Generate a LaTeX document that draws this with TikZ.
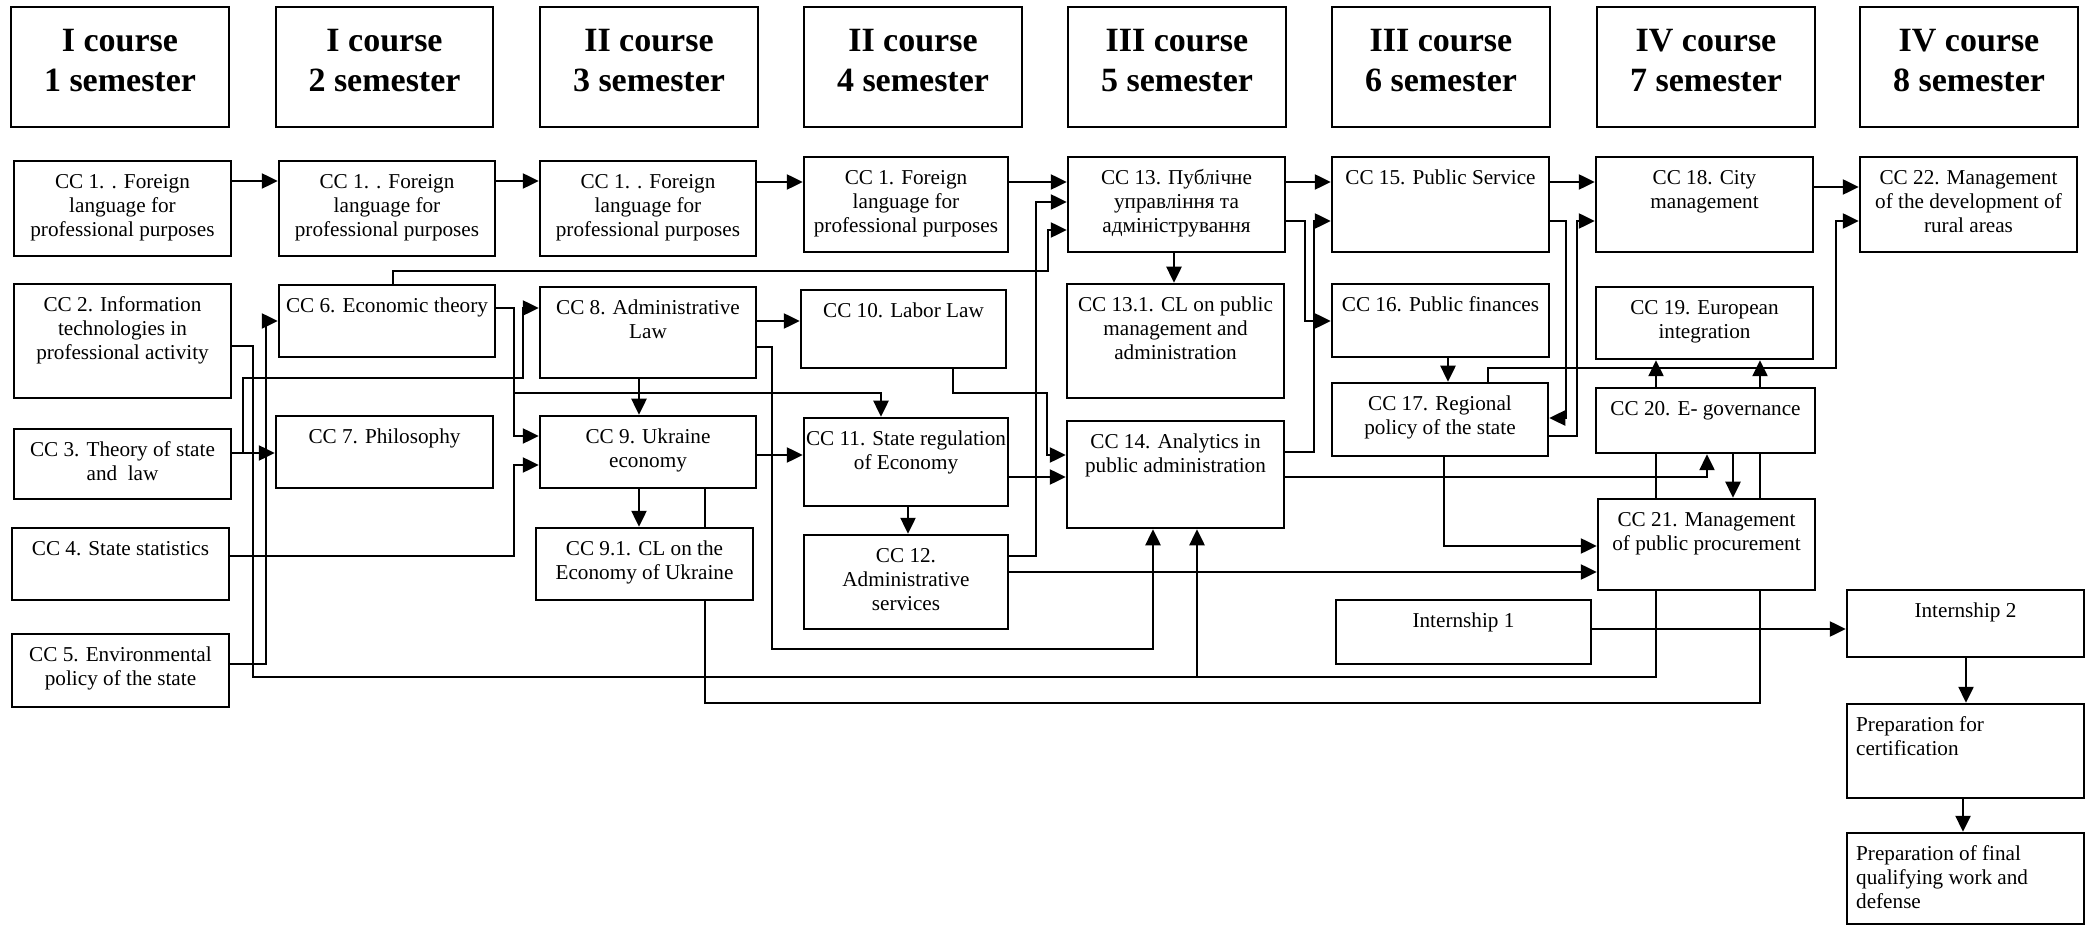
\documentclass[tikz,border=0pt]{standalone}
\usepackage{fontspec}
\setmainfont{Liberation Serif}
\usetikzlibrary{arrows.meta,fit,backgrounds}
\newcommand\cbox[6]{\node[box, fit={(#2,#3) (#4,#5)}] (#1) {};\node[txt] at (#1.north) {\strut #6};}
\newcommand\lbox[6]{\node[box, fit={(#2,#3) (#4,#5)}] (#1) {};\node[ltxt] at (#1.north west) {\strut #6};}
\newcommand\hdrbox[6]{\node[box, fit={(#2,#3) (#4,#5)}] (#1) {};\node[htxt] at (#1.north) {\strut #6};}
\begin{document}
\begin{tikzpicture}[x=0.5pt,y=-0.5pt,
  box/.style={draw, line width=1.25pt, fill=white, inner sep=0pt},
  txt/.style={font=\fontsize{10.6}{12}\selectfont, align=center, inner sep=0pt, anchor=north, yshift=-6pt},
  ltxt/.style={font=\fontsize{10.6}{12}\selectfont, align=left, inner sep=0pt, anchor=north west, yshift=-6pt, xshift=5pt},
  htxt/.style={font=\fontsize{17}{20}\selectfont\bfseries, align=center, inner sep=0pt, anchor=north, yshift=-8.5pt},
  conn/.style={line width=1.25pt},
  arr/.style={conn, -{Triangle[length=8pt,width=7.5pt]}}]
\useasboundingbox (0,0) rectangle (2085,925);
% headers
\hdrbox{h1}{11}{7}{229}{127}{I course\\1 semester}
\hdrbox{h2}{276}{7}{493}{127}{I course\\2 semester}
\hdrbox{h3}{540}{7}{758}{127}{II course\\3 semester}
\hdrbox{h4}{804}{7}{1022}{127}{II course\\4 semester}
\hdrbox{h5}{1068}{7}{1286}{127}{III course\\5 semester}
\hdrbox{h6}{1332}{7}{1550}{127}{III course\\6 semester}
\hdrbox{h7}{1597}{7}{1815}{127}{IV course\\7 semester}
\hdrbox{h8}{1860}{7}{2078}{127}{IV course\\8 semester}
% boxes
\cbox{c1a}{14}{161}{231}{256}{CC 1. . Foreign\\language for\\professional purposes}
\cbox{c1b}{279}{161}{495}{256}{CC 1. . Foreign\\language for\\professional purposes}
\cbox{c1c}{540}{161}{756}{256}{CC 1. . Foreign\\language for\\professional purposes}
\cbox{c1d}{804}{157}{1008}{252}{CC 1. Foreign\\language for\\professional purposes}
\cbox{c2}{14}{284}{231}{398}{CC 2. Information\\technologies in\\professional activity}
\cbox{c3}{14}{429}{231}{499}{CC 3. Theory of state\\and~~law}
\cbox{c4}{12}{528}{229}{600}{CC 4. State statistics}
\cbox{c5}{12}{634}{229}{707}{CC 5. Environmental\\policy of the state}
\cbox{c6}{279}{285}{495}{357}{CC 6. Economic theory}
\cbox{c7}{276}{416}{493}{488}{CC 7. Philosophy}
\cbox{c8}{540}{287}{756}{378}{CC 8. Administrative\\Law}
\cbox{c9}{540}{416}{756}{488}{CC 9. Ukraine\\economy}
\cbox{c91}{536}{528}{753}{600}{CC 9.1. CL on the\\Economy of Ukraine}
\cbox{c10}{801}{290}{1006}{368}{CC 10. Labor Law}
\cbox{c11}{804}{418}{1008}{506}{CC 11. State regulation\\of Economy}
\cbox{c12}{804}{535}{1008}{629}{CC 12.\\Administrative\\services}
\cbox{c13}{1068}{157}{1285}{252}{CC 13. Публічне\\управління та\\адміністрування}
\cbox{c131}{1067}{284}{1284}{398}{CC 13.1. CL on public\\management and\\administration}
\cbox{c14}{1067}{421}{1284}{528}{CC 14. Analytics in\\public administration}
\cbox{c15}{1332}{157}{1549}{252}{CC 15. Public Service}
\cbox{c16}{1332}{284}{1549}{357}{CC 16. Public finances}
\cbox{c17}{1332}{383}{1548}{456}{CC 17. Regional\\policy of the state}
\cbox{in1}{1336}{600}{1591}{664}{Internship 1}
\cbox{c18}{1596}{157}{1813}{252}{CC 18. City\\management}
\cbox{c19}{1596}{287}{1813}{359}{CC 19. European\\integration}
\cbox{c20}{1596}{388}{1815}{453}{CC 20. E- governance}
\cbox{c21}{1598}{499}{1815}{590}{CC 21. Management\\of public procurement}
\cbox{c22}{1860}{157}{2077}{252}{CC 22. Management\\of the development of\\rural areas}
\cbox{in2}{1847}{590}{2084}{657}{Internship 2}
\lbox{pc}{1847}{704}{2084}{798}{Preparation for\\certification}
\lbox{pf}{1847}{833}{2084}{924}{Preparation of final\\qualifying work and\\defense}
% connectors
\begin{pgfonlayer}{background}
\draw[arr] (c1a.east |- 0,181) -- (c1b.west |- 0,181);
\draw[arr] (c1b.east |- 0,181) -- (c1c.west |- 0,181);
\draw[arr] (c1c.east |- 0,182) -- (c1d.west |- 0,182);
\draw[arr] (c1d.east |- 0,182) -- (c13.west |- 0,182);
\draw[arr] (c12.east |- 0,556) -| (1036,202) -- (c13.west |- 0,202);
\draw[arr] (c6.north -| 393,0) |- (1048,271) |- (c13.west |- 0,230);
\draw[arr] (c6.east |- 0,308) -| (514,436) -- (c9.west |- 0,436);
\draw[arr] (514,393) -| (c11.north -| 881,0);
\draw[arr] (c8.south -| 639,0) -- (c9.north -| 639,0);
\draw[arr] (c9.south -| 639,0) -- (c91.north -| 639,0);
\draw[arr] (c2.east |- 0,346) -| (253,677) -| (c19.south -| 1656,0);
\draw[arr] (1197,677) -- (c14.south -| 1197,0);
\draw[arr] (c3.east |- 0,453) -- (c7.west |- 0,453);
\draw[arr] (243,453) |- (523,378) |- (c8.west |- 0,308);
\draw[arr] (c5.east |- 0,664) -| (266,321) -- (c6.west |- 0,321);
\draw[arr] (c4.east |- 0,556) -| (514,465) -- (c9.west |- 0,465);
\draw[arr] (c8.east |- 0,321) -- (c10.west |- 0,321);
\draw[arr] (c8.east |- 0,347) -| (772,649) -| (c14.south -| 1153,0);
\draw[arr] (c9.south -| 705,0) |- (1760,703) -- (c19.south -| 1760,0);
\draw[arr] (c9.east |- 0,455) -- (c11.west |- 0,455);
\draw[arr] (c10.south -| 953,0) |- (1047,393) |- (c14.west |- 0,455);
\draw[arr] (c11.east |- 0,477) -- (c14.west |- 0,477);
\draw[arr] (c11.south -| 908,0) -- (c12.north -| 908,0);
\draw[arr] (c12.east |- 0,572) -- (c21.west |- 0,572);
\draw[arr] (c13.east |- 0,182) -- (c15.west |- 0,182);
\draw[arr] (c13.east |- 0,221) -| (1305,321) -- (c16.west |- 0,321);
\draw[arr] (c14.east |- 0,452) -| (1314,221) -- (c15.west |- 0,221);
\draw[arr] (c13.south -| 1174,0) -- (c131.north -| 1174,0);
\draw[arr] (c15.east |- 0,182) -- (c18.west |- 0,182);
\draw[arr] (c15.east |- 0,221) -| (1566,418) -- (c17.east |- 0,418);
\draw[arr] (c17.east |- 0,436) -| (1577,221) -- (c18.west |- 0,221);
\draw[arr] (c16.south -| 1448,0) -- (c17.north -| 1448,0);
\draw[arr] (c17.north -| 1488,0) |- (1836,368) |- (c22.west |- 0,221);
\draw[arr] (c17.south -| 1444,0) |- (c21.west |- 0,546);
\draw[arr] (c14.east |- 0,477) -| (c20.south -| 1707,0);
\draw[arr] (c20.south -| 1733,0) -- (c21.north -| 1733,0);
\draw[arr] (c18.east |- 0,187) -- (c22.west |- 0,187);
\draw[arr] (in1.east |- 0,629) -- (in2.west |- 0,629);
\draw[arr] (in2.south -| 1966,0) -- (pc.north -| 1966,0);
\draw[arr] (pc.south -| 1963,0) -- (pf.north -| 1963,0);
\end{pgfonlayer}
\end{tikzpicture}
\end{document}
